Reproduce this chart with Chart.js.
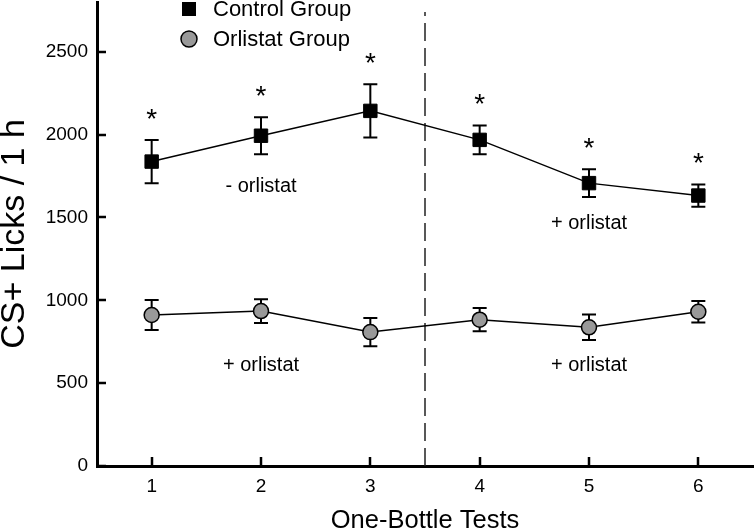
<!DOCTYPE html>
<html>
<head>
<meta charset="utf-8">
<script src="https://cdn.jsdelivr.net/npm/chart.js@4.4.1/dist/chart.umd.min.js"></script>
<style>
  html, body { margin: 0; padding: 0; background: #fff; }
  #wrap { width: 755px; height: 532px; position: relative; }
</style>
</head>
<body>
<div id="wrap"><canvas id="chart"></canvas></div>
<script>
// data
const tests = [1, 2, 3, 4, 5, 6];
const controlMean = [1837, 1993, 2143, 1968, 1707, 1632];
const controlSem = [130, 111, 160, 87, 83, 67];
const orlistatMean = [911, 935, 808, 883, 837, 931];
const orlistatSem = [90, 72, 85, 70, 77, 65];
const significant = [true, true, true, true, true, true];
const yTicks = [0, 500, 1000, 1500, 2000, 2500];
const xTicks = tests;

const FONT = "'Liberation Sans', Arial, sans-serif";

const toPoints = (means) => tests.map((t, i) => ({ x: t, y: means[i] }));

const extras = {
  id: 'extras',
  beforeDatasetsDraw(chart) {
    const { ctx, chartArea, scales: { x, y } } = chart;
    ctx.save();
    // dashed divider between phases
    const dx = x.getPixelForValue(3.5);
    ctx.strokeStyle = '#222';
    ctx.lineWidth = 1.5;
    ctx.setLineDash([18, 7]);
    ctx.beginPath();
    ctx.moveTo(dx, chartArea.bottom);
    ctx.lineTo(dx, chartArea.top + 10);
    ctx.stroke();
    ctx.setLineDash([]);

    // error bars
    ctx.strokeStyle = '#000';
    ctx.lineWidth = 2;
    [[controlMean, controlSem], [orlistatMean, orlistatSem]].forEach(([m, s]) => {
      tests.forEach((t, i) => {
        const px = x.getPixelForValue(t);
        const top = y.getPixelForValue(m[i] + s[i]);
        const bot = y.getPixelForValue(m[i] - s[i]);
        ctx.beginPath();
        ctx.moveTo(px, top); ctx.lineTo(px, bot);
        ctx.moveTo(px - 7, top); ctx.lineTo(px + 7, top);
        ctx.moveTo(px - 7, bot); ctx.lineTo(px + 7, bot);
        ctx.stroke();
      });
    });
    ctx.restore();
  },
  afterDraw(chart) {
    const { ctx, chartArea, scales: { x, y } } = chart;
    ctx.save();
    ctx.fillStyle = '#000';

    // asterisks above control error bars
    ctx.font = `28px ${FONT}`;
    ctx.textAlign = 'center';
    ctx.textBaseline = 'alphabetic';
    tests.forEach((t, i) => {
      if (!significant[i]) return;
      const px = x.getPixelForValue(t);
      const top = y.getPixelForValue(controlMean[i] + controlSem[i]);
      ctx.fillText('*', px, top - 12);
    });

    // condition labels
    ctx.font = `20px ${FONT}`;
    ctx.textBaseline = 'middle';
    [['- orlistat', 2, 1687], ['+ orlistat', 5, 1463], ['+ orlistat', 2, 604], ['+ orlistat', 5, 604]]
      .forEach(([txt, vx, vy]) => ctx.fillText(txt, x.getPixelForValue(vx), y.getPixelForValue(vy)));

    // inward tick marks
    ctx.strokeStyle = '#000';
    ctx.lineWidth = 2.5;
    ctx.beginPath();
    yTicks.forEach(v => {
      const py = Math.round(y.getPixelForValue(v));
      ctx.moveTo(chartArea.left, py);
      ctx.lineTo(chartArea.left + 9, py);
    });
    xTicks.forEach(v => {
      const px = Math.round(x.getPixelForValue(v));
      ctx.moveTo(px, chartArea.bottom);
      ctx.lineTo(px, chartArea.bottom - 9);
    });
    ctx.stroke();

    // legend
    const lx = 189;
    ctx.fillStyle = '#000';
    ctx.fillRect(lx - 7, 2, 14, 14);
    ctx.beginPath();
    ctx.arc(lx, 39, 8, 0, Math.PI * 2);
    ctx.fillStyle = '#999999';
    ctx.fill();
    ctx.lineWidth = 1.5;
    ctx.strokeStyle = '#000';
    ctx.stroke();
    ctx.fillStyle = '#000';
    ctx.font = `22px ${FONT}`;
    ctx.textAlign = 'left';
    ctx.textBaseline = 'middle';
    ctx.fillText('Control Group', 213, 10);
    ctx.fillText('Orlistat Group', 213, 40);
    ctx.restore();
  }
};

new Chart(document.getElementById('chart'), {
  type: 'scatter',
  data: {
    datasets: [{
      label: 'Control Group',
      data: toPoints(controlMean),
      showLine: true,
      borderColor: '#000',
      borderWidth: 1.5,
      pointStyle: 'rect',
      pointRadius: 9.5,
      pointHoverRadius: 9.5,
      pointBackgroundColor: '#000',
      pointBorderColor: '#000',
      pointBorderWidth: 1
    }, {
      label: 'Orlistat Group',
      data: toPoints(orlistatMean),
      showLine: true,
      borderColor: '#000',
      borderWidth: 1.5,
      pointStyle: 'circle',
      pointRadius: 7.5,
      pointHoverRadius: 7.5,
      pointBackgroundColor: '#999999',
      pointBorderColor: '#000',
      pointBorderWidth: 1.5
    }]
  },
  options: {
    responsive: true,
    maintainAspectRatio: false,
    animation: false,
    events: [],
    layout: { autoPadding: false, padding: { top: 2, right: 2, left: 0, bottom: 0 } },
    plugins: { legend: { display: false }, tooltip: { enabled: false } },
    scales: {
      x: {
        type: 'linear',
        min: 0.5,
        max: 6.5,
        afterBuildTicks: (s) => { s.ticks = xTicks.map(v => ({ value: v })); },
        afterFit: (s) => { s.height = 66; s.paddingLeft = 0; s.paddingRight = 0; },
        grid: { display: false, drawTicks: false },
        border: { display: true, color: '#000', width: 3 },
        ticks: { color: '#000', padding: 9, font: { family: FONT, size: 19 }, callback: v => String(v) },
        title: {
          display: true,
          text: 'One-Bottle Tests',
          color: '#000',
          padding: 0,
          font: { family: FONT, size: 25.5, lineHeight: 0.85 }
        }
      },
      y: {
        type: 'linear',
        min: 0,
        max: 2800,
        afterBuildTicks: (s) => { s.ticks = yTicks.map(v => ({ value: v })); },
        afterFit: (s) => { s.width = 97; s.paddingTop = 0; s.paddingBottom = 0; },
        grid: { display: false, drawTicks: false },
        border: { display: true, color: '#000', width: 3 },
        ticks: { color: '#000', padding: 9, font: { family: FONT, size: 19 }, callback: v => String(v) },
        title: {
          display: true,
          text: 'CS+ Licks / 1 h',
          color: '#000',
          padding: 0,
          font: { family: FONT, size: 34, lineHeight: 0.85 }
        }
      }
    }
  },
  plugins: [extras]
});
</script>
</body>
</html>
